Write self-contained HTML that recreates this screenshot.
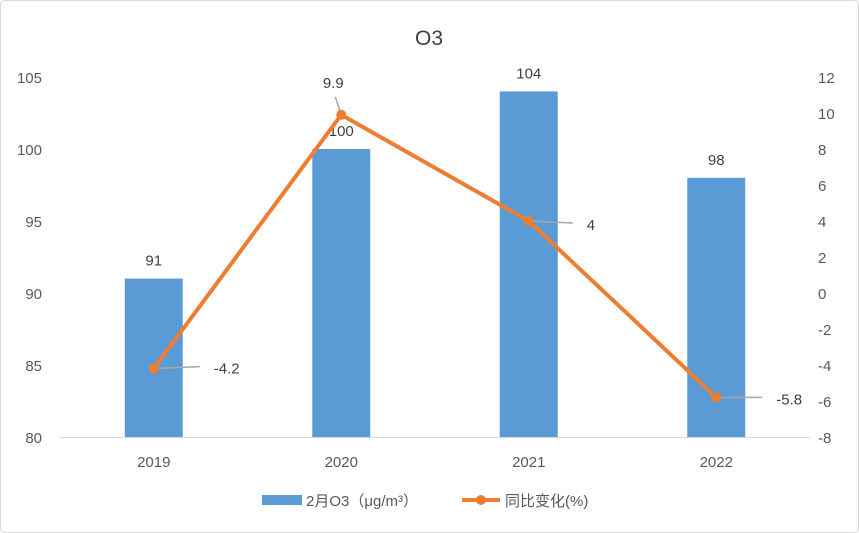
<!DOCTYPE html>
<html><head><meta charset="utf-8"><style>
body{margin:0;background:#fff}
svg{display:block;font-family:"Liberation Sans","Noto Sans CJK SC",sans-serif}
</style></head><body>
<svg id="c" width="859" height="533">
<rect x="0.5" y="0.5" width="858" height="532" rx="4" fill="#fff" stroke="#d9d9d9"/>
<text x="429" y="45" text-anchor="middle" font-size="21" fill="#404040">O3</text>
<g id="g"></g>
</svg>
<script>
const categories=["2019","2020","2021","2022"];
const barValues=[91,100,104,98];
const lineValues=[-4.2,9.9,4,-5.8];
const leftTicks=[80,85,90,95,100,105];
const rightTicks=[-8,-6,-4,-2,0,2,4,6,8,10,12];
const NS="http://www.w3.org/2000/svg";
const g=document.getElementById('g');
const x0=60,x1=810,yTop=77,yBot=437;
const bw=(x1-x0)/categories.length;
const xC=i=>x0+bw*(i+0.5);
const yL=v=>yBot-(v-80)/(105-80)*(yBot-yTop);
const yR=v=>yBot-(v+8)/(12+8)*(yBot-yTop);
function el(t,a,txt){const e=document.createElementNS(NS,t);for(const k in a)e.setAttribute(k,a[k]);if(txt!=null)e.textContent=txt;g.appendChild(e);return e;}
leftTicks.forEach(v=>{const e=el('text',{x:42,y:yL(v)+6,'text-anchor':'end','font-size':15,fill:'#595959'},v);

});
rightTicks.forEach(v=>{const e=el('text',{x:818,y:yR(v)+6,'text-anchor':'start','font-size':15,fill:'#595959'},v);

});
const ax=el('line',{x1:x0,y1:yBot+0.5,x2:x1,y2:yBot+0.5,stroke:'#d9d9d9','stroke-width':1});


categories.forEach((c,i)=>{
const t=el('text',{x:xC(i),y:467,'text-anchor':'middle','font-size':15,fill:'#595959'},c);


const b=el('rect',{x:xC(i)-29,y:yL(barValues[i]),width:58,height:yBot-yL(barValues[i]),fill:'#5b9bd5'});


const l=el('text',{x:xC(i),y:yL(barValues[i])-13,'text-anchor':'middle','font-size':15,fill:'#404040'},barValues[i]);


});
const pts=lineValues.map((v,i)=>xC(i)+','+yR(v)).join(' ');
const pl=el('polyline',{points:pts,fill:'none',stroke:'#ed7d31','stroke-width':4,'stroke-linejoin':'round'});


const offs=[[60,0],[-8,-32],[58,4],[60,2]];
lineValues.forEach((v,i)=>{
const x=xC(i),y=yR(v);const [dx,dy]=offs[i];
const ll=el('line',{x1:x,y1:y,x2:dx>20?x+dx-14:x+dx+2,y2:dx>20?y+dy-2:y+dy+14,stroke:'#a6a6a6','stroke-width':1.5});


const p=el('circle',{cx:x,cy:y,r:5,fill:'#ed7d31'});


const t=el('text',{x:x+dx,y:y+dy+5,'text-anchor':dx>20?'start':'middle','font-size':15,fill:'#404040'},v);


});
const lb=el('rect',{x:262,y:495,width:40,height:10,fill:'#5b9bd5'});


const lt=el('text',{x:306,y:506,'font-size':15,fill:'#595959'},'2月O3（μg/m³）');


const ln=el('line',{x1:462,y1:500,x2:500,y2:500,stroke:'#ed7d31','stroke-width':4});


const lc=el('circle',{cx:481,cy:500,r:5,fill:'#ed7d31'});


const lt2=el('text',{x:505,y:506,'font-size':15,fill:'#595959'},'同比变化(%)');


</script>
</body></html>
